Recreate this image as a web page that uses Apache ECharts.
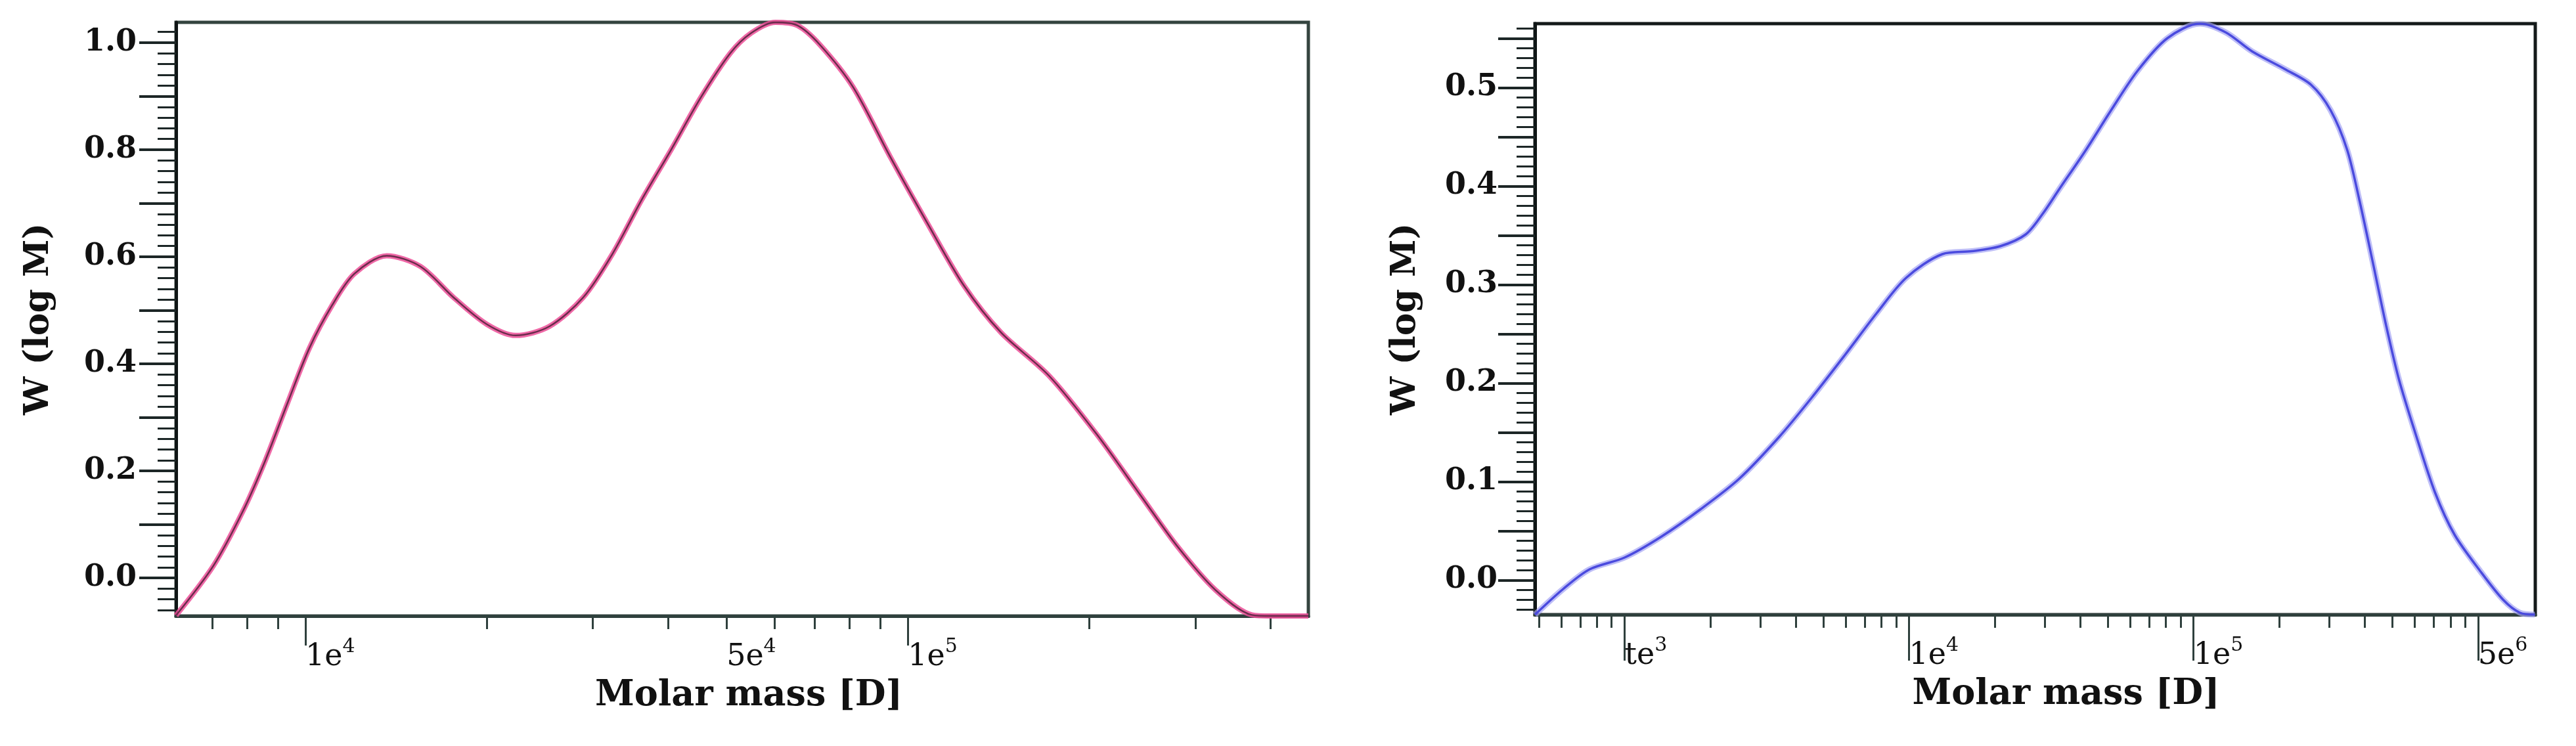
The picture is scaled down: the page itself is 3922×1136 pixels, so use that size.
<!DOCTYPE html>
<html>
<head>
<meta charset="utf-8">
<title>Molar mass distribution</title>
<script src="https://cdn.jsdelivr.net/npm/echarts@6.0.0/dist/echarts.min.js"></script>
<style>
html, body { margin: 0; padding: 0; background: #fff; }
#chart { width: 3922px; height: 1136px; }
</style>
</head>
<body>
<div id="chart"></div>
<script>
// left sample: molar mass [D] / W(log M)
var massA = [6100, 7030, 7870, 8570, 9350, 10160, 11070, 12050, 13650, 15520, 17620, 20000, 22340, 25410,
    28910, 32280, 36140, 40460, 45290, 50700, 54950, 60260, 65610, 71450, 81100, 93540, 107700, 123900,
    142600, 171400, 205600, 243800, 280500, 323600, 372400, 400000, 462000];
var wA = [-0.070, 0.022, 0.124, 0.218, 0.328, 0.430, 0.509, 0.568, 0.602, 0.582, 0.524, 0.474, 0.453, 0.470,
    0.524, 0.604, 0.706, 0.800, 0.897, 0.980, 1.018, 1.038, 1.032, 0.996, 0.917, 0.786, 0.663, 0.546,
    0.459, 0.378, 0.269, 0.153, 0.058, -0.022, -0.069, -0.071, -0.071];

// right sample
var massB = [484, 608, 753, 1000, 1343, 1849, 2529, 3483, 4539, 5929, 7691, 9772, 13090, 16630, 20890,
    25700, 29500, 33730, 41690, 51290, 63530, 80720, 105200, 130000, 160300, 208900, 258800, 303400,
    346700, 382800, 426600, 474200, 527200, 602600, 706300, 827900, 1026000, 1227000, 1403000, 1585000];
var wB = [-0.035, -0.009, 0.011, 0.023, 0.044, 0.072, 0.103, 0.145, 0.185, 0.228, 0.271, 0.307, 0.331, 0.334,
    0.339, 0.351, 0.372, 0.397, 0.436, 0.477, 0.517, 0.550, 0.565, 0.556, 0.537, 0.519, 0.503, 0.477,
    0.437, 0.386, 0.323, 0.260, 0.204, 0.149, 0.089, 0.046, 0.008, -0.020, -0.033, -0.035];

// tick labels (text as printed in the figure)
var xLabelValsA = [10000, 50000, 100000];
var xLabelBaseA = ['1e', '5e', '1e'];
var xLabelPowA = ['4', '4', '5'];
var xLabelValsB = [1000, 10000, 100000, 1000000];
var xLabelBaseB = ['te', '1e', '1e', '5e'];
var xLabelPowB = ['3', '4', '5', '6'];
var xLongTicksA = [10000, 100000];
var xLongTicksB = [1000, 10000, 100000, 1000000];
var yLabelsA = [0, 0.2, 0.4, 0.6, 0.8, 1.0];
var yLabelsB = [0, 0.1, 0.2, 0.3, 0.4, 0.5];

var serif = "'DejaVu Serif', 'Liberation Serif', serif";

var pairs = function (xs, ys) {
    return xs.map(function (x, i) { return [x, ys[i]]; });
};

// 2..9 x 10^k between min and max
var logMinor = function (min, max) {
    var out = [];
    for (var k = 2; k <= 6; k++) {
        for (var m = 2; m < 10; m++) {
            var v = m * Math.pow(10, k);
            if (v > min && v < max) out.push(v);
        }
    }
    return out;
};

var steps = function (from, to, step) {
    var out = [];
    var n = Math.round((to - from) / step);
    for (var i = 0; i <= n; i++) out.push(+(from + i * step).toFixed(3));
    return out;
};

var xMain = function (grid, min, max, vals, bases, pows, longTicks, tickLen, color, namePad) {
    return {
        type: 'log', logBase: 10, gridIndex: grid, min: min, max: max, position: 'bottom',
        axisLine: { show: true, onZero: false, lineStyle: { color: color, width: 5 } },
        axisTick: { show: true, length: tickLen, customValues: longTicks, lineStyle: { color: color, width: 3 } },
        axisLabel: {
            show: true, customValues: vals, margin: 32, align: 'left',
            formatter: function (v) {
                var best = 0;
                for (var i = 1; i < vals.length; i++) {
                    if (Math.abs(Math.log10(vals[i]) - Math.log10(v)) < Math.abs(Math.log10(vals[best]) - Math.log10(v))) best = i;
                }
                return '{b|' + bases[best] + '}{s|' + pows[best] + '}';
            },
            rich: {
                b: { fontFamily: serif, fontSize: 46, color: '#111', lineHeight: 54, verticalAlign: 'bottom' },
                s: { fontFamily: serif, fontSize: 30, color: '#111', lineHeight: 32, verticalAlign: 'top' }
            }
        },
        splitLine: { show: false },
        name: 'Molar mass [D]', nameLocation: 'middle', nameGap: 95,
        nameTextStyle: { fontFamily: serif, fontWeight: 'bold', fontSize: 54, color: '#111', padding: [0, 0, 0, namePad] }
    };
};

var xMinor = function (grid, min, max, ticks, color) {
    return {
        type: 'log', logBase: 10, gridIndex: grid, min: min, max: max, position: 'bottom',
        axisLine: { show: false, onZero: false },
        axisTick: { show: true, length: 20, customValues: ticks, lineStyle: { color: color, width: 3 } },
        axisLabel: { show: false },
        splitLine: { show: false }
    };
};

var yMain = function (grid, min, max, labels, longTicks, gap, margin) {
    return {
        type: 'value', gridIndex: grid, min: min, max: max, position: 'left',
        axisLine: { show: true, onZero: false, lineStyle: { color: '#0f1515', width: 5 } },
        axisTick: { show: true, length: 56, customValues: longTicks, lineStyle: { color: '#1c2626', width: 4 } },
        axisLabel: {
            show: true, customValues: labels, margin: margin,
            formatter: function (v) { return v.toFixed(1); },
            fontFamily: serif, fontWeight: 'bold', fontSize: 46, color: '#111'
        },
        splitLine: { show: false },
        name: 'W (log M)', nameLocation: 'middle', nameGap: gap, nameRotate: 90,
        nameTextStyle: { fontFamily: serif, fontWeight: 'bold', fontSize: 52, color: '#111' }
    };
};

var yMinor = function (grid, min, max, ticks) {
    return {
        type: 'value', gridIndex: grid, min: min, max: max, position: 'left',
        axisLine: { show: false, onZero: false },
        axisTick: { show: true, length: 28, customValues: ticks, lineStyle: { color: '#1c2626', width: 3 } },
        axisLabel: { show: false },
        splitLine: { show: false }
    };
};

var myChart = echarts.init(document.getElementById('chart'));

var xMinA = 6100, xMaxA = 462000, yMinA = -0.071, yMaxA = 1.038;
var xMinB = 484, xMaxB = 1590000, yMinB = -0.035, yMaxB = 0.565;

var options = {
    animation: false,
    backgroundColor: '#fff',
    grid: [
        { left: 268, right: 1930, top: 34, bottom: 198, show: true, borderColor: '#34443f', borderWidth: 5, outerBoundsMode: 'none' },
        { left: 2337, right: 62, top: 36, bottom: 200, show: true, borderColor: '#141a1a', borderWidth: 5, outerBoundsMode: 'none' }
    ],
    xAxis: [
        xMain(0, xMinA, xMaxA, xLabelValsA, xLabelBaseA, xLabelPowA, xLongTicksA, 45, '#2f403d', 20),
        xMinor(0, xMinA, xMaxA, logMinor(xMinA, xMaxA), '#2f403d'),
        xMain(1, xMinB, xMaxB, xLabelValsB, xLabelBaseB, xLabelPowB, xLongTicksB, 70, '#2f403d', 94),
        xMinor(1, xMinB, xMaxB, logMinor(xMinB, xMaxB), '#2f403d')
    ],
    yAxis: [
        yMain(0, yMinA, yMaxA, yLabelsA, steps(0, 1.0, 0.1), 183, 60),
        yMinor(0, yMinA, yMaxA, steps(-0.06, 1.02, 0.02)),
        yMain(1, yMinB, yMaxB, yLabelsB, steps(0, 0.55, 0.05), 171, 57),
        yMinor(1, yMinB, yMaxB, steps(-0.03, 0.56, 0.01))
    ],
    series: [
        {
            type: 'line', xAxisIndex: 0, yAxisIndex: 0, data: pairs(massA, wA),
            showSymbol: false, smooth: 0.3, silent: true, z: 2,
            lineStyle: { color: '#ec4f98', width: 8, opacity: 0.85 }
        },
        {
            type: 'line', xAxisIndex: 0, yAxisIndex: 0, data: pairs(massA, wA),
            showSymbol: false, smooth: 0.3, silent: true, z: 3,
            lineStyle: { color: '#6b2c4c', width: 2.5 }
        },
        {
            type: 'line', xAxisIndex: 2, yAxisIndex: 2, data: pairs(massB, wB),
            showSymbol: false, smooth: 0.3, silent: true, z: 2,
            lineStyle: { color: '#a3a3f4', width: 9, opacity: 0.7 }
        },
        {
            type: 'line', xAxisIndex: 2, yAxisIndex: 2, data: pairs(massB, wB),
            showSymbol: false, smooth: 0.3, silent: true, z: 3,
            lineStyle: { color: '#4a4ade', width: 3.5 }
        }
    ]
};

myChart.setOption(options);
</script>
</body>
</html>
